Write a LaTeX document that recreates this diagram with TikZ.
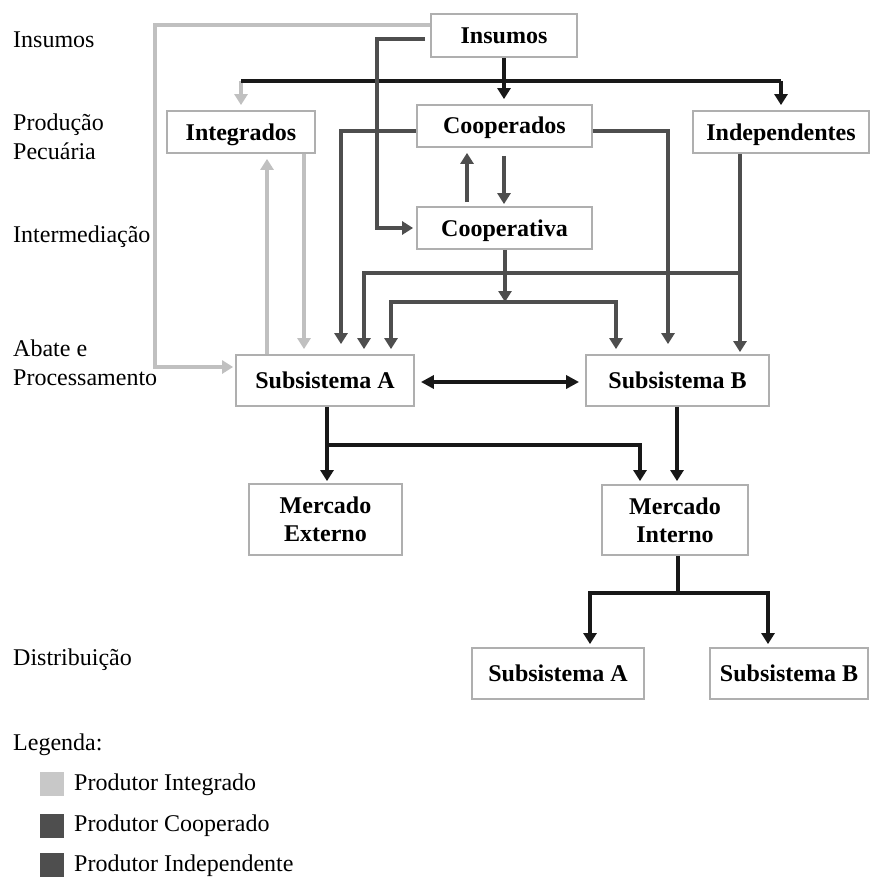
\documentclass[tikz,border=0pt]{standalone}
\usepackage{fontspec}
\setmainfont{Liberation Serif}
\usetikzlibrary{arrows.meta}

\definecolor{lightline}{RGB}{192,192,192}
\definecolor{darkline}{RGB}{78,78,78}
\definecolor{blackline}{RGB}{24,24,24}
\definecolor{boxline}{RGB}{175,175,175}
\definecolor{keylight}{RGB}{200,200,200}
\definecolor{keydark}{RGB}{78,78,78}

\tikzset{
  stagebox/.style={draw=boxline, line width=1.8pt, inner sep=0pt, align=center,
    font=\bfseries\fontsize{24}{28}\selectfont},
  oneline/.style={text height=16pt, text depth=0pt},
  stagelabel/.style={anchor=west, inner sep=0pt, align=left,
    font=\fontsize{24}{29}\selectfont},
  tipped/.style={-{Triangle[width=13pt,length=11pt]}},
  integ line/.style={draw=lightline, line width=3.2pt},
  coop line/.style={draw=darkline, line width=3.2pt},
  main line/.style={draw=blackline, line width=3.4pt},
  keybox/.style={minimum width=24pt, minimum height=24pt, inner sep=0pt}
}

\begin{document}
\begin{tikzpicture}[x=1pt, y=-1pt]
\useasboundingbox (0,0) rectangle (871,880);

% ---- stage labels on the left ----
\node[stagelabel] (lInsumos) at (13,40) {Insumos};
\node[stagelabel] (lProducao) at (13,137) {Produção\\Pecuária};
\node[stagelabel] (lInter) at (13,237) {Intermediação};
\node[stagelabel] (lAbate) at (13,363) {Abate e\\Processamento};
\node[stagelabel] (lDistr) at (13,660) {Distribuição};

% ---- boxes ----
\node[stagebox, oneline, minimum width=146pt, minimum height=43pt] (ins)    at (504,35.5) {Insumos};
\node[stagebox, oneline, minimum width=148pt, minimum height=42pt] (integ)  at (241,132) {Integrados};
\node[stagebox, oneline, minimum width=175pt, minimum height=42pt] (coop)   at (504.5,126) {Cooperados};
\node[stagebox, oneline, minimum width=175pt, minimum height=42pt] (coopva) at (504.5,228) {Cooperativa};
\node[stagebox, oneline, minimum width=176pt, minimum height=42pt] (indep)  at (781,132) {Independentes};
\node[stagebox, oneline, minimum width=178pt, minimum height=51pt] (subA)   at (325,380.5) {Subsistema A};
\node[stagebox, oneline, minimum width=183pt, minimum height=51pt] (subB)   at (677.5,380.5) {Subsistema B};
\node[stagebox, minimum width=153pt, minimum height=71pt] (mext)   at (325.5,519.5) {Mercado\\Externo};
\node[stagebox, minimum width=146pt, minimum height=70pt] (mint)   at (675,520) {Mercado\\Interno};
\node[stagebox, oneline, minimum width=172pt, minimum height=51pt] (dA)     at (558,673.5) {Subsistema A};
\node[stagebox, oneline, minimum width=158pt, minimum height=51pt] (dB)     at (789,673.5) {Subsistema B};

% ---- integrated producer flows (light grey) ----
\draw[integ line, tipped, shorten >=2pt] (ins.west |- 0,25) -| (155,367) -- (subA.west |- 0,367);
\draw[integ line, tipped, shorten >=5pt] (integ.north |- 0,81) -- (integ.north);
\draw[integ line, tipped, shorten >=5pt] (subA.north -| 267,0) -- (integ.south -| 267,0);
\draw[integ line, tipped, shorten >=5pt] (integ.south -| 304,0) -- (subA.north -| 304,0);

% ---- supplies bus ----
\draw[main line] (ins.south) -- (ins.south |- 0,81);
\draw[main line] (integ.north |- 0,81) -- (indep.north |- 0,81);
\draw[main line, tipped, shorten >=5pt] (ins.south |- 0,81) -- (coop.north -| ins.south);
\draw[main line, tipped, shorten >=5pt] (indep.north |- 0,81) -- (indep.north);

% ---- cooperative flows (dark grey) ----
\draw[coop line, tipped, shorten <=5pt, shorten >=3pt] (ins.west |- 0,39) -| (377,228) -- (coopva.west);
\draw[coop line, tipped, shorten >=10pt] (coop.west |- 0,131) -| (subA.north -| 341,0);
\draw[coop line, tipped, shorten <=4pt, shorten >=5pt] (coopva.north -| 467,0) -- (coop.south -| 467,0);
\draw[coop line, tipped, shorten <=8pt, shorten >=2pt] (coop.south -| 504,0) -- (coopva.north -| 504,0);
\draw[coop line, tipped, shorten >=10pt] (coop.east |- 0,131) -| (subB.north -| 668,0);
\draw[coop line, tipped] (coopva.south -| 505,0) -- (505,302);
\draw[coop line, tipped, shorten >=5pt] (505,302) -| (subA.north -| 391,0);
\draw[coop line, tipped, shorten >=5pt] (505,302) -| (subB.north -| 616,0);

% ---- independent producer flows (dark grey) ----
\draw[coop line, tipped, shorten >=2pt] (indep.south -| 740,0) -- (subB.north -| 740,0);
\draw[coop line, tipped, shorten >=5pt] (740,273) -| (subA.north -| 364,0);

% ---- processing and distribution (black) ----
\draw[main line, {Triangle[width=13pt,length=13pt]}-{Triangle[width=13pt,length=13pt]},
      shorten <=6pt, shorten >=6pt] (subA.east |- 0,382) -- (subB.west |- 0,382);
\draw[main line, tipped, shorten >=2pt] (subA.south -| 327,0) -- (mext.north -| 327,0);
\draw[main line, tipped, shorten >=3pt] (327,445) -| (mint.north -| 640,0);
\draw[main line, tipped, shorten >=3pt] (subB.south -| 677,0) -- (mint.north -| 677,0);
\draw[main line] (mint.south -| 678,0) -- (678,593);
\draw[main line, tipped, shorten >=3pt] (678,593) -| (dA.north -| 590,0);
\draw[main line, tipped, shorten >=3pt] (678,593) -| (dB.north -| 768,0);

% ---- key ----
\node[stagelabel] (lKey) at (13,745) {Legenda:};
\node[keybox, fill=keylight] (k1) at (52,784) {};
\node[keybox, fill=keydark]  (k2) at (52,826) {};
\node[keybox, fill=keydark]  (k3) at (52,865) {};
\node[stagelabel] (t1) at (74,785) {Produtor Integrado};
\node[stagelabel] (t2) at (74,826) {Produtor Cooperado};
\node[stagelabel] (t3) at (74,866) {Produtor Independente};
\end{tikzpicture}
\end{document}
